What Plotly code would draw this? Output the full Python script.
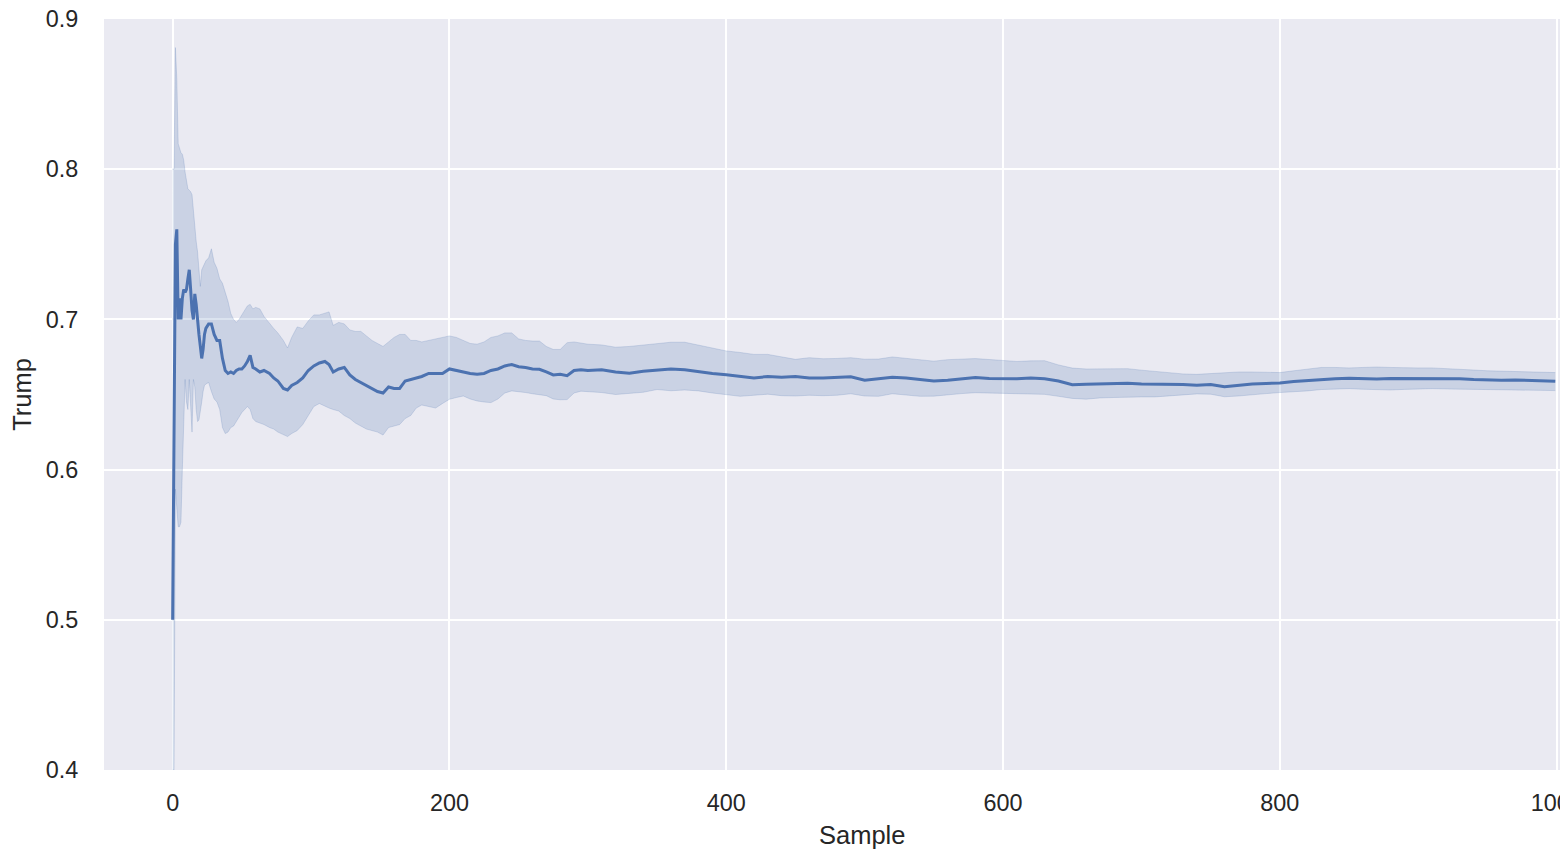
import plotly.graph_objects as go

# Sample index
sample = [0, 1, 2, 3, 4, 5, 6, 7, 8, 9, 10, 11, 12, 13, 14, 15, 16, 17, 18, 19,
          20, 21, 22, 23, 24, 26, 28, 30, 32, 34, 36, 38, 40, 42, 44, 46, 48, 50,
          52, 54, 56, 58, 60, 63, 66, 70, 73, 76, 80, 83, 86, 90, 94, 98, 102, 106,
          110, 113, 116, 120, 124, 128, 132, 136, 140, 144, 148, 152, 156, 160, 164,
          168, 172, 176, 180, 185, 190, 195, 200, 205, 210, 215, 220, 225, 230, 235,
          240, 245, 250, 255, 260, 265, 270, 275, 280, 285, 290, 295, 300, 310, 320,
          330, 340, 350, 360, 370, 380, 390, 400, 410, 420, 430, 440, 450, 460, 470,
          480, 490, 500, 510, 520, 530, 540, 550, 560, 570, 580, 590, 600, 610, 620,
          630, 640, 650, 660, 670, 680, 690, 700, 710, 720, 730, 740, 750, 760, 770,
          780, 790, 800, 810, 820, 830, 840, 850, 860, 870, 880, 890, 900, 910, 920,
          930, 940, 950, 960, 970, 980, 990, 999]

trump_mean = [0.50, 0.667, 0.75, 0.76, 0.70, 0.714, 0.70, 0.714, 0.72, 0.718, 0.72, 0.727,
              0.733, 0.72, 0.706, 0.70, 0.717, 0.71, 0.698, 0.69, 0.682, 0.674, 0.68, 0.69,
              0.694, 0.697, 0.697, 0.690, 0.686, 0.686, 0.674, 0.666, 0.664, 0.665, 0.664,
              0.666, 0.667, 0.667, 0.669, 0.672, 0.676, 0.668, 0.667, 0.665, 0.666, 0.664,
              0.661, 0.659, 0.654, 0.653, 0.656, 0.658, 0.661, 0.666, 0.669, 0.671, 0.672,
              0.670, 0.665, 0.667, 0.668, 0.663, 0.660, 0.658, 0.656, 0.654, 0.652, 0.651,
              0.655, 0.654, 0.654, 0.659, 0.660, 0.661, 0.662, 0.664, 0.664, 0.664, 0.667,
              0.666, 0.6646, 0.664, 0.6635, 0.664, 0.666, 0.667, 0.669, 0.670, 0.6685, 0.668,
              0.667, 0.6668, 0.665, 0.663, 0.6635, 0.6625, 0.666, 0.6665, 0.666, 0.6665,
              0.665, 0.6642, 0.6655, 0.6665, 0.667, 0.6665, 0.665, 0.664, 0.6632, 0.662,
              0.661, 0.662, 0.6615, 0.662, 0.661, 0.661, 0.6615, 0.6618, 0.6595, 0.6605,
              0.6615, 0.661, 0.6598, 0.659, 0.6595, 0.6605, 0.6613, 0.6606, 0.6603, 0.6605,
              0.661, 0.6605, 0.659, 0.6565, 0.6568, 0.657, 0.657, 0.6575, 0.657, 0.657,
              0.657, 0.6566, 0.6562, 0.6566, 0.6552, 0.6563, 0.657, 0.6574, 0.6577, 0.6586,
              0.6594, 0.66, 0.6605, 0.6608, 0.6605, 0.6604, 0.6606, 0.6606, 0.6607, 0.661,
              0.6608, 0.6605, 0.66, 0.6597, 0.6595, 0.6597, 0.6595, 0.6592, 0.6588]

ci_upper = [0.80, 0.80, 0.881, 0.86, 0.817, 0.814, 0.811, 0.81, 0.806, 0.798, 0.792, 0.787,
            0.786, 0.785, 0.783, 0.771, 0.762, 0.752, 0.745, 0.73, 0.722, 0.733, 0.735,
            0.737, 0.739, 0.741, 0.747, 0.738, 0.734, 0.727, 0.724, 0.718, 0.712, 0.704,
            0.700, 0.698, 0.700, 0.703, 0.706, 0.709, 0.710, 0.707, 0.708, 0.707, 0.702,
            0.697, 0.694, 0.691, 0.686, 0.681, 0.688, 0.695, 0.694, 0.699, 0.703, 0.703,
            0.704, 0.705, 0.696, 0.698, 0.697, 0.693, 0.692, 0.692, 0.689, 0.686, 0.684,
            0.682, 0.685, 0.688, 0.69, 0.69, 0.686, 0.686, 0.685, 0.686, 0.687, 0.688,
            0.689, 0.688, 0.686, 0.684, 0.6835, 0.685, 0.688, 0.689, 0.691, 0.691, 0.687,
            0.686, 0.6856, 0.6856, 0.682, 0.680, 0.680, 0.6845, 0.685, 0.684, 0.6835,
            0.683, 0.6815, 0.682, 0.683, 0.6842, 0.6848, 0.6848, 0.683, 0.681, 0.679,
            0.678, 0.6767, 0.6767, 0.675, 0.6734, 0.6745, 0.6738, 0.674, 0.6745, 0.6735,
            0.6736, 0.675, 0.674, 0.673, 0.6722, 0.6732, 0.6737, 0.6739, 0.6733, 0.6728,
            0.672, 0.6724, 0.6725, 0.6697, 0.6676, 0.667, 0.6672, 0.6672, 0.6672, 0.6662,
            0.6653, 0.6645, 0.6637, 0.6634, 0.6639, 0.6646, 0.665, 0.665, 0.6648, 0.6646,
            0.6658, 0.667, 0.668, 0.668, 0.6677, 0.668, 0.6683, 0.668, 0.6677, 0.6677,
            0.6677, 0.6674, 0.667, 0.6663, 0.6658, 0.6655, 0.6652, 0.665, 0.6648, 0.6646]

ci_lower = [0.40, 0.40, 0.587, 0.575, 0.562, 0.562, 0.565, 0.60, 0.63, 0.66, 0.645, 0.64,
            0.66, 0.64, 0.625, 0.66, 0.655, 0.64, 0.632, 0.633, 0.638, 0.645, 0.652,
            0.656, 0.657, 0.658, 0.652, 0.647, 0.645, 0.64, 0.628, 0.624, 0.625, 0.628,
            0.629, 0.632, 0.635, 0.638, 0.64, 0.642, 0.64, 0.634, 0.632, 0.631, 0.63,
            0.628, 0.627, 0.625, 0.623, 0.622, 0.624, 0.626, 0.63, 0.636, 0.642, 0.644,
            0.642, 0.641, 0.64, 0.639, 0.636, 0.634, 0.631, 0.629, 0.627, 0.626, 0.625,
            0.623, 0.628, 0.629, 0.63, 0.634, 0.636, 0.641, 0.643, 0.642, 0.641, 0.644,
            0.6468, 0.648, 0.649, 0.647, 0.6457, 0.645, 0.6446, 0.647, 0.651, 0.6524,
            0.652, 0.6513, 0.6505, 0.65, 0.6492, 0.647, 0.6465, 0.6466, 0.651, 0.6522,
            0.652, 0.6513, 0.65, 0.6505, 0.6515, 0.6533, 0.6525, 0.653, 0.6524, 0.651,
            0.6498, 0.6488, 0.6495, 0.6502, 0.6492, 0.649, 0.6495, 0.6492, 0.6495, 0.6505,
            0.649, 0.6488, 0.6505, 0.6495, 0.6488, 0.6489, 0.65, 0.6506, 0.6512, 0.651,
            0.6506, 0.6505, 0.6505, 0.6501, 0.6488, 0.6474, 0.6469, 0.6477, 0.648, 0.6484,
            0.6484, 0.6484, 0.6492, 0.6498, 0.6504, 0.6502, 0.6485, 0.649, 0.65, 0.6506,
            0.6513, 0.6518, 0.6524, 0.6533, 0.6537, 0.6539, 0.6535, 0.653, 0.653, 0.6534,
            0.6537, 0.6539, 0.6537, 0.6535, 0.6535, 0.6535, 0.6532, 0.6528, 0.6527,
            0.6526, 0.6526]

x_ticks = [0, 200, 400, 600, 800, 1000]
y_ticks = [0.4, 0.5, 0.6, 0.7, 0.8, 0.9]
x_title = "Sample"
y_title = "Trump"

LINE = "#4C72B0"
BAND = "rgba(76,114,176,0.2)"
TEXT = "#262626"
FONT = "Liberation Sans, Arial, sans-serif"

fig = go.Figure()
fig.add_trace(go.Scatter(x=sample, y=ci_lower, mode="lines",
                         line=dict(color=BAND, width=1), showlegend=False,
                         hoverinfo="skip"))
fig.add_trace(go.Scatter(x=sample, y=ci_upper, mode="lines", fill="tonexty",
                         fillcolor=BAND, line=dict(color=BAND, width=1),
                         showlegend=False, hoverinfo="skip"))
fig.add_trace(go.Scatter(x=sample, y=trump_mean, mode="lines",
                         line=dict(color=LINE, width=3), showlegend=False))

fig.update_layout(
    width=1560, height=852,
    margin=dict(l=104, r=0, t=19, b=82),
    paper_bgcolor="white",
    plot_bgcolor="#EAEAF2",
    font=dict(family=FONT, color=TEXT, size=23),
    xaxis=dict(
        range=[-49.6, 1002.4],
        tickvals=x_ticks,
        ticktext=[str(v) for v in x_ticks],
        showgrid=True, gridcolor="white", gridwidth=1.6,
        zeroline=False, showline=False, automargin=False,
        ticks="outside", ticklen=12, tickcolor="rgba(0,0,0,0)",
        tickfont=dict(size=23.4, color=TEXT),
        ticklabeloverflow="allow",
    ),
    yaxis=dict(
        range=[0.4, 0.9],
        tickvals=y_ticks,
        ticktext=[f"{v:.1f}" for v in y_ticks],
        showgrid=True, gridcolor="white", gridwidth=1.6,
        zeroline=False, showline=False, automargin=False,
        ticks="outside", ticklen=20, tickcolor="rgba(0,0,0,0)",
        tickfont=dict(size=23.4, color=TEXT),
        ticklabeloverflow="allow",
        title=dict(text=y_title, font=dict(size=25.5, color=TEXT), standoff=6),
    ),
    annotations=[dict(
        text=x_title, xref="paper", yref="paper", x=0.5206, y=-0.0866,
        xanchor="center", yanchor="middle", showarrow=False,
        font=dict(size=25.5, color=TEXT, family=FONT),
    )],
)

fig.write_html("out.html", post_script="document.body.style.margin='0';",
               config={"displayModeBar": False})
